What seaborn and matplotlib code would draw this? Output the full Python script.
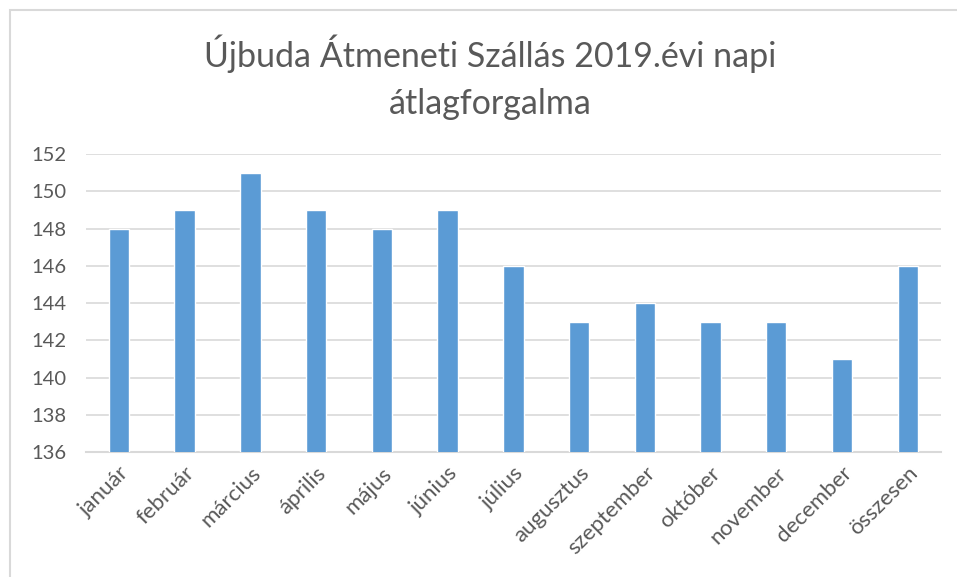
import pandas as pd
import seaborn as sns
import matplotlib.pyplot as plt
from matplotlib.patches import Rectangle

months = ["január", "február", "március", "április", "május", "június",
          "július", "augusztus", "szeptember", "október", "november",
          "december", "összesen"]
daily_avg = [148, 149, 151, 149, 148, 149, 146, 143, 144, 143, 143, 141, 146]
yticks = [136, 138, 140, 142, 144, 146, 148, 150, 152]

df = pd.DataFrame({"honap": months, "forgalom": daily_avg})

sns.set_style("white")
plt.rcParams["font.family"] = ["Lato", "DejaVu Sans"]
text_col = "#595959"
grid_col = "#D9D9D9"

fig = plt.figure(figsize=(9.57, 5.77), dpi=100)
ax = fig.add_axes([0.0899, 0.2166, 0.893, 0.5165])

sns.barplot(data=df, x="honap", y="forgalom", color="#5B9BD5", saturation=1,
            width=0.31, ax=ax, zorder=3)

ax.set_ylim(136, 152)
ax.set_xlim(-0.5, len(months) - 0.5)
ax.set_yticks(yticks)
ax.yaxis.grid(True, color=grid_col, linewidth=1.2, zorder=0)
ax.set_axisbelow(True)
for s in ["top", "right", "left"]:
    ax.spines[s].set_visible(False)
ax.spines["bottom"].set_color(grid_col)
ax.spines["bottom"].set_linewidth(1.5)
ax.set_xlabel("")
ax.set_ylabel("")
ax.tick_params(axis="both", length=0, colors=text_col)
ax.tick_params(axis="y", pad=14, labelsize=14.5)
ax.tick_params(axis="x", pad=8, labelsize=16)
plt.setp(ax.get_xticklabels(), rotation=45, ha="right", rotation_mode="anchor")

fig.text(0.512, 0.866, "Újbuda Átmeneti Szállás 2019.évi napi\nátlagforgalma",
         ha="center", va="center", fontsize=24.5, color=text_col, linespacing=1.55)

fig.patches.append(Rectangle((0.0105, -0.05), 1.2, 1.033, transform=fig.transFigure,
                             fill=False, edgecolor=grid_col, linewidth=1.5))

fig.savefig("out.png", dpi=100, facecolor="white")
